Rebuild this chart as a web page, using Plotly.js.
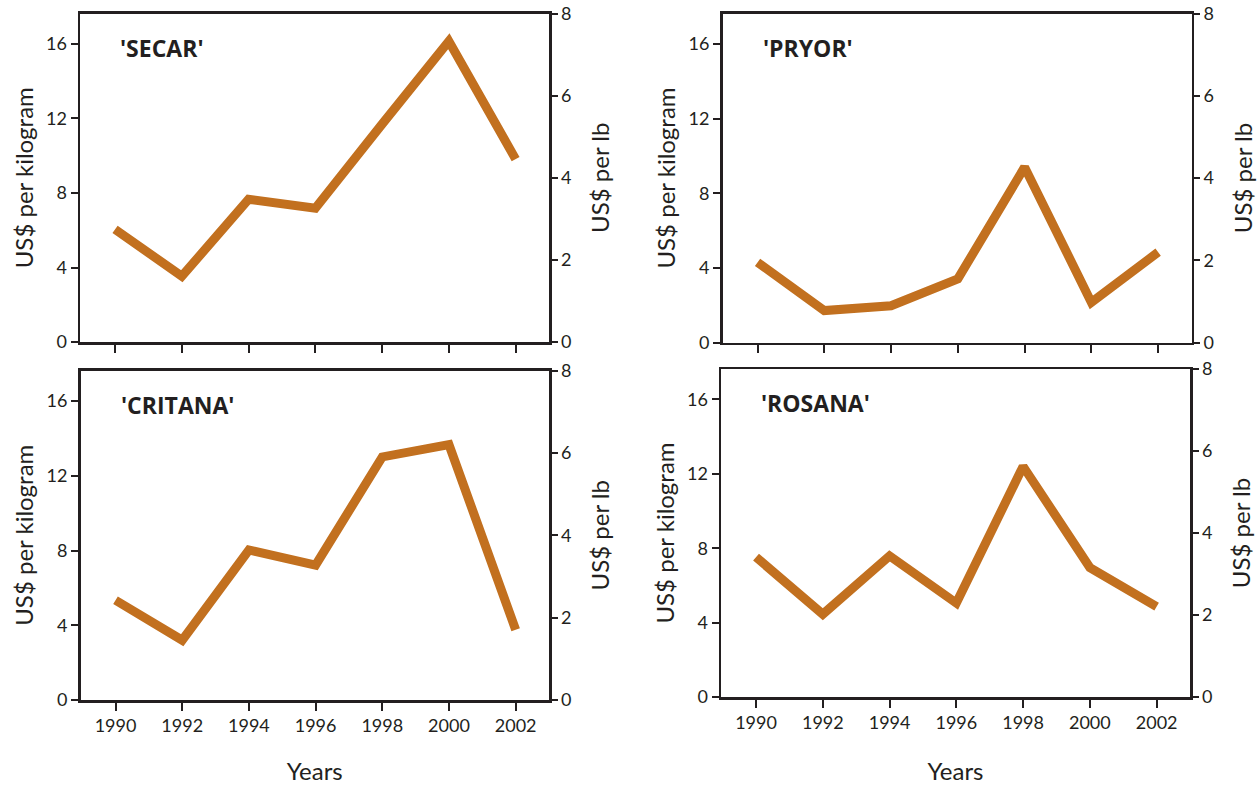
<!DOCTYPE html>
<html>
<head>
<meta charset="utf-8">
<script src="https://cdn.plot.ly/plotly-3.0.1.min.js"></script>
<style>html,body{margin:0;padding:0;background:#fff;}#chart{width:1260px;height:785px;}</style>
</head>
<body>
<div id="chart"></div>
<script>
// ---- data ----
const years = [1990, 1992, 1994, 1996, 1998, 2000, 2002];
const cultivars = ["'SECAR'", "'PRYOR'", "'CRITANA'", "'ROSANA'"];
const secar   = [6.05, 3.53, 7.66, 7.18, 11.7, 16.15, 9.82];
const pryor   = [4.30, 1.71, 1.97, 3.41, 9.4, 2.15, 4.84];
const critana = [5.34, 3.2, 8.03, 7.22, 13.01, 13.67, 3.76];
const rosana  = [7.52, 4.45, 7.59, 5.05, 12.4, 6.96, 4.86];
const kgTicks = [0, 4, 8, 12, 16];
const lbTicks = [0, 2, 4, 6, 8];
const yearTicks = [1990, 1992, 1994, 1996, 1998, 2000, 2002];

const series = [secar, pryor, critana, rosana];
const KG_PER_LB = 2.20462;
const W = 1260, H = 785;
const ink = '#231f20';
const lineColor = '#c2701f';
const font = 'Lato, "Open Sans", sans-serif';
const boldFont = '"Open Sans", Lato, sans-serif';

// panel pixel boxes [left, right, top, bottom]
const boxes = [
  [80, 549, 13.5, 342],
  [722.5, 1191.5, 13.5, 342.5],
  [80.5, 549, 370.5, 700],
  [721, 1190, 369, 697]
];
const yearsStandoff = [0, 0, 28, 31];

const data = [];
const layout = {
  width: W, height: H,
  margin: {l: 0, r: 0, t: 0, b: 0},
  paper_bgcolor: '#fff', plot_bgcolor: '#fff',
  showlegend: false,
  font: {family: font, color: ink},
  annotations: []
};

boxes.forEach((b, i) => {
  const n = i + 1;
  const xa = 'xaxis' + (n === 1 ? '' : n);
  const xr = 'x' + (n === 1 ? '' : n);
  const yl = 2 * n - 1, yr = 2 * n;
  const yla = 'yaxis' + (yl === 1 ? '' : yl);
  const ylr = 'y' + (yl === 1 ? '' : yl);
  const yra = 'yaxis' + yr;
  const yrr = 'y' + yr;
  const xdom = [b[0] / W, b[1] / W];
  const ydom = [1 - b[3] / H, 1 - b[2] / H];
  const bottomRow = i >= 2;

  data.push({
    x: years, y: series[i], xaxis: xr, yaxis: ylr,
    type: 'scatter', mode: 'lines',
    line: {color: lineColor, width: 9},
    hoverinfo: 'x+y'
  });
  // invisible trace so the right axis is drawn
  data.push({
    x: [years[0]], y: [0], xaxis: xr, yaxis: yrr,
    type: 'scatter', mode: 'markers', marker: {opacity: 0}, hoverinfo: 'skip'
  });

  layout[xa] = {
    domain: xdom, anchor: ylr,
    range: [1988.95, 2003.0],
    tickvals: yearTicks, ticktext: yearTicks.map(String),
    showticklabels: bottomRow,
    ticks: 'outside', ticklen: 8, tickwidth: 2, tickcolor: ink,
    showline: true, linecolor: ink, linewidth: 2.5, mirror: true,
    showgrid: false, zeroline: false,
    tickfont: {size: 18, color: ink, family: font},
    title: bottomRow ? {text: 'Years', font: {size: 24, color: ink, family: font}, standoff: yearsStandoff[i]} : {text: ''},
    fixedrange: true
  };
  layout[yla] = {
    domain: ydom, anchor: xr,
    range: [0, 8 * KG_PER_LB],
    tickvals: kgTicks,
    ticks: 'outside', ticklen: 7, tickwidth: 2, tickcolor: ink,
    showline: true, linecolor: ink, linewidth: 2.5,
    showgrid: false, zeroline: false,
    tickfont: {size: 18, color: ink, family: font},
    title: {text: 'US$ per kilogram', font: {size: 24, color: ink, family: font}, standoff: 6},
    fixedrange: true
  };
  layout[yra] = {
    overlaying: ylr, anchor: xr, side: 'right',
    range: [0, 8],
    tickvals: lbTicks,
    ticks: 'outside', ticklen: 6, tickwidth: 2, tickcolor: ink,
    showline: true, linecolor: ink, linewidth: 2.5,
    showgrid: false, zeroline: false,
    tickfont: {size: 18, color: ink, family: font},
    title: {text: 'US$ per lb', font: {size: 24, color: ink, family: font}, standoff: 22},
    fixedrange: true
  };
  layout.annotations.push({
    xref: xr + ' domain', yref: ylr + ' domain',
    x: 0.082, y: 0.895, xanchor: 'left', yanchor: 'middle',
    text: '<b>' + cultivars[i] + '</b>', showarrow: false,
    font: {size: 23, color: ink, family: boldFont}
  });
});

Plotly.newPlot('chart', data, layout, {displayModeBar: false, staticPlot: true});
</script>
</body>
</html>
